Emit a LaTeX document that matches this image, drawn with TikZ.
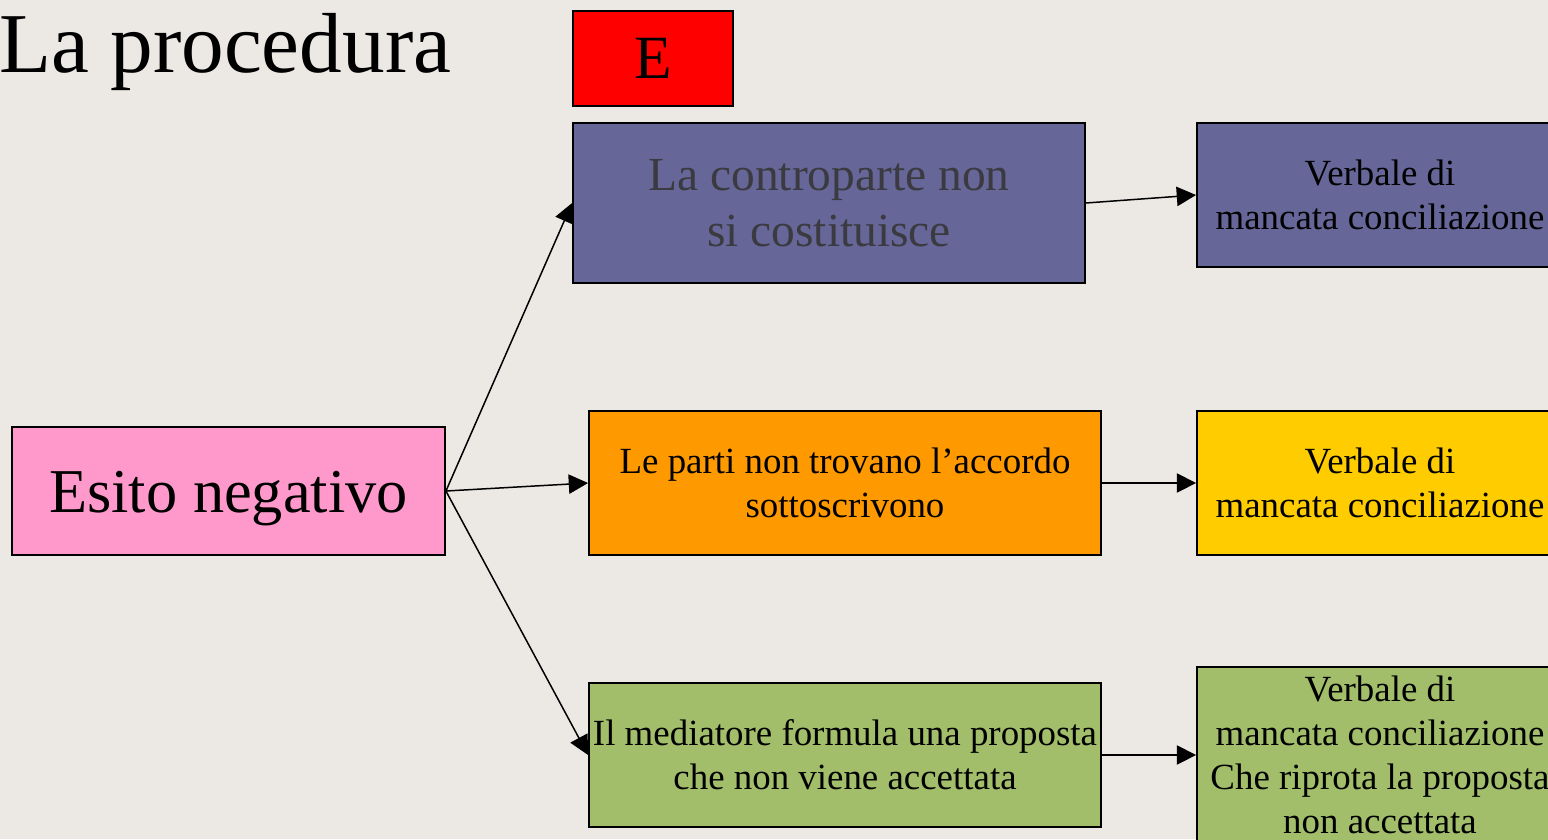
\documentclass[tikz,border=0pt]{standalone}
\usepackage{fontspec}
\setmainfont{Liberation Serif}
\usetikzlibrary{arrows.meta}

\definecolor{sfondo}{RGB}{236,232,228}
\definecolor{viola}{RGB}{102,102,153}
\definecolor{rosa}{RGB}{255,153,204}
\definecolor{arancio}{RGB}{255,153,0}
\definecolor{giallo}{RGB}{255,204,0}
\definecolor{verde}{RGB}{162,190,106}
\definecolor{grigio}{RGB}{58,58,64}

\tikzset{
  box/.style={draw, line width=1.1pt, inner sep=0pt, align=center},
  piccolo/.style={font=\fontsize{21}{25}\selectfont},
  freccia/.style={-{Triangle[length=11pt,width=11pt]}, line width=0.85pt},
}

\begin{document}
\begin{tikzpicture}[x=0.02cm, y=-0.02cm]
    \fill[sfondo] (0,0) rectangle (1548,839);
    \clip (0,0) rectangle (1548,839);

    \node[anchor=base west, inner sep=0pt, font=\fontsize{48.5}{50}\selectfont] (titolo) at (-1,72) {La procedura};
    \node[box, fill=red, minimum width=3.2cm, minimum height=1.9cm, font=\fontsize{35}{40}\selectfont] (lettera) at (653,58.5) {E};

    \node[box, fill=rosa, minimum width=8.66cm, minimum height=2.56cm, text height=24pt, text depth=0pt,
          font=\fontsize{35.5}{40}\selectfont] (esito) at (228.5,491) {Esito negativo};

    \node[box, fill=viola, text=grigio, minimum width=10.24cm, minimum height=3.2cm,
          font=\fontsize{27}{31.7}\selectfont] (contro) at (829,203) {La controparte non\\si costituisce};
    \node[box, piccolo, fill=arancio, minimum width=10.24cm, minimum height=2.88cm] (parti) at (845,483) {Le parti non trovano l’accordo\\sottoscrivono};
    \node[box, piccolo, fill=verde, minimum width=10.24cm, minimum height=2.88cm] (proposta) at (845,755) {Il mediatore formula una proposta\\che non viene accettata};

    \node[box, piccolo, fill=viola, minimum width=7.32cm, minimum height=2.88cm] (verbale1) at (1380,195) {Verbale di\\mancata conciliazione};
    \node[box, piccolo, fill=giallo, minimum width=7.32cm, minimum height=2.88cm] (verbale2) at (1380,483) {Verbale di\\mancata conciliazione};
    \node[box, piccolo, fill=verde, minimum width=7.32cm, minimum height=3.52cm] (verbale3) at (1380,755) {Verbale di\\mancata conciliazione\\Che riprota la proposta\\non accettata};

    \draw[freccia] (esito.east) -- (contro.west);
    \draw[freccia] (esito.east) -- (parti.west);
    \draw[freccia] (esito.east) -- (proposta.west);
    \draw[freccia] (contro.east) -- (verbale1.west);
    \draw[freccia] (parti.east) -- (verbale2.west);
    \draw[freccia] (proposta.east) -- (verbale3.west);
\end{tikzpicture}
\end{document}
